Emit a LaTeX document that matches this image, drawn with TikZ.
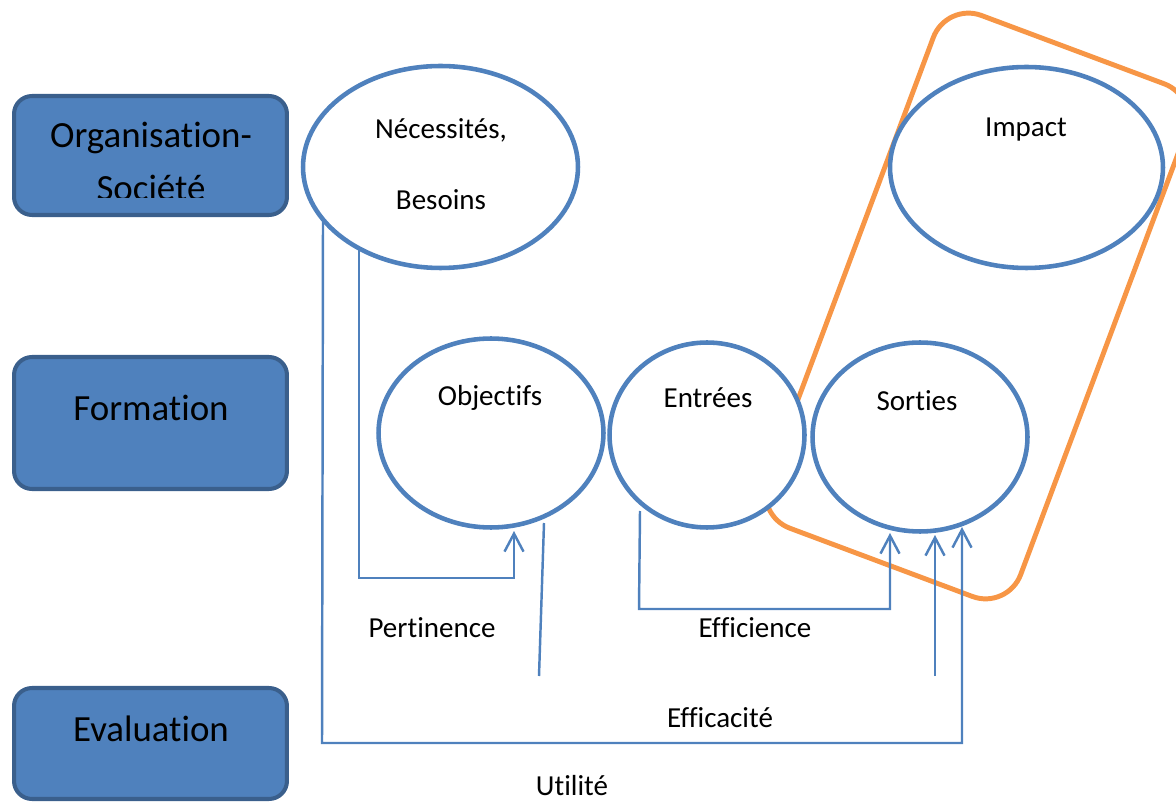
\documentclass[tikz,border=0pt]{standalone}
\usepackage{fontspec}
\setmainfont{Carlito}[Ligatures={CommonOff,ContextualOff}]
\usepackage{xcolor}
\usepackage{tikz}
\usetikzlibrary{arrows.meta,shapes.geometric}
\definecolor{bl}{RGB}{79,129,189}
\definecolor{bldk}{RGB}{58,95,140}
\definecolor{orng}{RGB}{247,150,70}

\begin{document}
\begin{tikzpicture}[x=0.02cm, y=-0.02cm, >={Straight Barb[length=3.6mm,width=3.8mm]},
  bx/.style={rectangle, rounded corners=0.36cm, draw=bldk, line width=2.3pt, fill=bl, minimum width=5.46cm, inner sep=0pt},
  bt/.style={font=\fontsize{21}{30}\selectfont, align=center, inner sep=0pt},
  el/.style={ellipse, draw=bl, line width=2.6pt, fill=white, inner sep=0pt},
  et/.style={font=\fontsize{16.5}{40.8}\selectfont, align=center, inner sep=0pt},
  ln/.style={draw=bl, line width=1.4pt},
  lb/.style={font=\fontsize{16.5}{20}\selectfont, inner sep=0pt}]
\useasboundingbox (0,0) rectangle (1176,803);
\clip (0,0) rectangle (1176,803);

% left column
\node[bx, minimum height=2.38cm] (org) at (150.5,155.5) {};
\node[bx, minimum height=2.64cm] (form) at (150.5,423) {};
\node[bx, minimum height=2.22cm] (eval) at (150.5,743.5) {};
\begin{scope}
  \clip (12,94) rectangle (289,198);
  \node[bt] (orgt) at (151,161.5) {Organisation-\\Société};
\end{scope}
\node[bt] (formt) at (151,407.5) {Formation};
\node[bt] (evalt) at (151,729) {Evaluation};

% impact zone
\node[draw=orng, line width=2.8pt, rounded corners=0.75cm, rotate=-20.5,
  minimum width=5.4cm, minimum height=10.95cm] (zone) at (977,306) {};

% ellipses
\node[el, minimum width=5.5cm, minimum height=4.04cm] (nec) at (440.5,167) {};
\node[el, minimum width=5.46cm, minimum height=4.02cm] (imp) at (1026.5,167.5) {};
\node[el, minimum width=4.5cm, minimum height=3.78cm] (obj) at (491,433) {};
\node[el, minimum width=3.9cm, minimum height=3.7cm] (ent) at (707,435) {};
\node[el, minimum width=4.3cm, minimum height=3.78cm] (sor) at (920,437) {};
\node[et] (nect) at (441,164) {Nécessités,\\Besoins};
\node[et] (impt) at (1026,130) {Impact};
\node[et] (objt) at (490,398) {Objectifs};
\node[et] (entt) at (708,398) {Entrées};
\node[et] (sort) at (917,401) {Sorties};

% connectors
\coordinate (n1) at (359,250);
\coordinate (n2) at (323,222);
\coordinate (o1) at (514,531);
\coordinate (o2) at (544,523);
\coordinate (o3) at (539,676);
\coordinate (e1) at (640,511);
\coordinate (s1) at (890,533);
\coordinate (s2) at (935,535);
\coordinate (s3) at (962,527);
\coordinate (b2) at (935,676);
\draw[ln, ->] (n1) -- (359,578) -- (514,578) -- (o1);
\draw[ln] (o2) -- (o3);
\draw[ln, ->] (e1) -- (639,609) -- (890,609) -- (s1);
\draw[ln, ->] (b2) -- (s2);
\draw[ln, ->] (n2) -- (322,743) -- (962,743) -- (s3);

% labels
\node[lb] (pert) at (432,628) {Pertinence};
\node[lb] (effi) at (755,628) {Efficience};
\node[lb] (effa) at (720,718) {Efficacité};
\node[lb] (util) at (572,786) {Utilité};
\end{tikzpicture}
\end{document}
